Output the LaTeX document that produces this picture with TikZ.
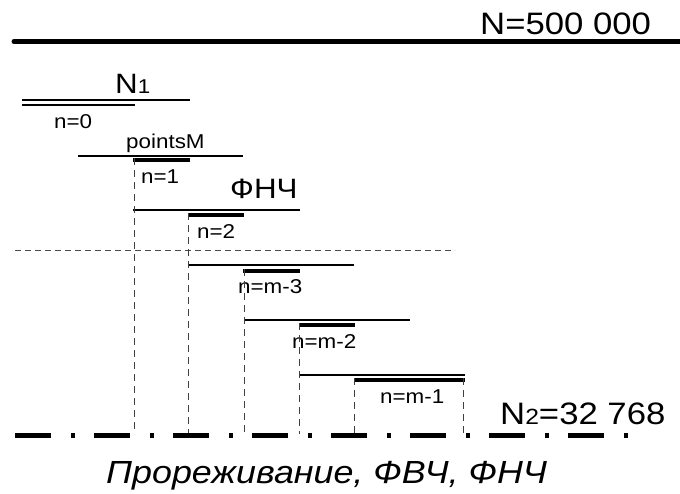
\documentclass[tikz,border=0pt]{standalone}
\usepackage{fontspec}
\setmainfont{Liberation Sans}[FakeStretch=1.12]
\begin{document}
\begin{tikzpicture}[x=1pt,y=-1pt,
  bar/.style={line width=2.4pt,line cap=butt},
  thickbar/.style={line width=3.8pt,line cap=butt},
  guide/.style={line width=0.8pt,draw=black!75,dash pattern=on 7pt off 5pt},
  big/.style={inner sep=0pt,anchor=base west,font=\fontsize{31}{31}\selectfont},
  mid/.style={inner sep=0pt,anchor=base west,font=\fontsize{28}{28}\selectfont},
  lbl/.style={inner sep=0pt,anchor=base west,font=\fontsize{20}{20}\selectfont}]
\useasboundingbox (0,0) rectangle (680,493);

% input record and its length
\draw[line width=5pt,line cap=round] (14,41.5) -- (690,41.5);
\node[big] (ntot) at (480,34) {N=500 000};

% stage n=0
\draw[bar] (22,100) -- (190,100);
\draw[bar] (22,105) -- (135,105);
\node[mid] (n1) at (115,93) {N{\fontsize{20}{20}\selectfont 1}};
\node[lbl] (s0) at (54,128) {n=0};

% stage n=1
\node[lbl] (pm) at (126,148) {pointsM};
\draw[bar] (78,156) -- (243,156);
\draw[thickbar] (133,160) -- (190,160);
\node[lbl] (s1) at (141,183) {n=1};

% stage n=2
\node[mid] (lpf) at (230,198) {ФНЧ};
\draw[bar] (133,210) -- (300,210);
\draw[thickbar] (188,215) -- (244,215);
\node[lbl] (s2) at (197,238) {n=2};

% break between the first and the last stages
\draw[line width=0.8pt,draw=black!70,dash pattern=on 6pt off 4pt] (15,250) -- (455,250);

% stage n=m-3
\draw[bar] (188,265) -- (354,265);
\draw[thickbar] (243,271) -- (300,271);
\node[lbl] (s3) at (238,293) {n=m-3};

% stage n=m-2
\draw[bar] (244,320) -- (410,320);
\draw[thickbar] (299,325) -- (355,325);
\node[lbl] (s4) at (292,348) {n=m-2};

% stage n=m-1
\draw[bar] (299,375) -- (465,375);
\draw[thickbar] (354,380) -- (465,380);
\node[lbl] (s5) at (380,403) {n=m-1};

% projections onto the output record
\foreach \xx/\yy in {134/158, 188/213, 244/269, 299/323, 354/378, 463/378}
  \draw[guide] (\xx,\yy) -- (\xx,434);

% output record
\draw[line width=5pt,line cap=butt,dash pattern=on 36pt off 20pt on 4pt off 19pt]
  (15,435.5) -- (629,435.5);
\node[big] (nout) at (500,424) {N{\fontsize{22}{22}\selectfont 2}=32 768};

\node[inner sep=0pt,anchor=base west,font=\fontsize{32}{32}\selectfont\itshape] (cap) at (106,483)
  {Прореживание, ФВЧ, ФНЧ};
\end{tikzpicture}
\end{document}
